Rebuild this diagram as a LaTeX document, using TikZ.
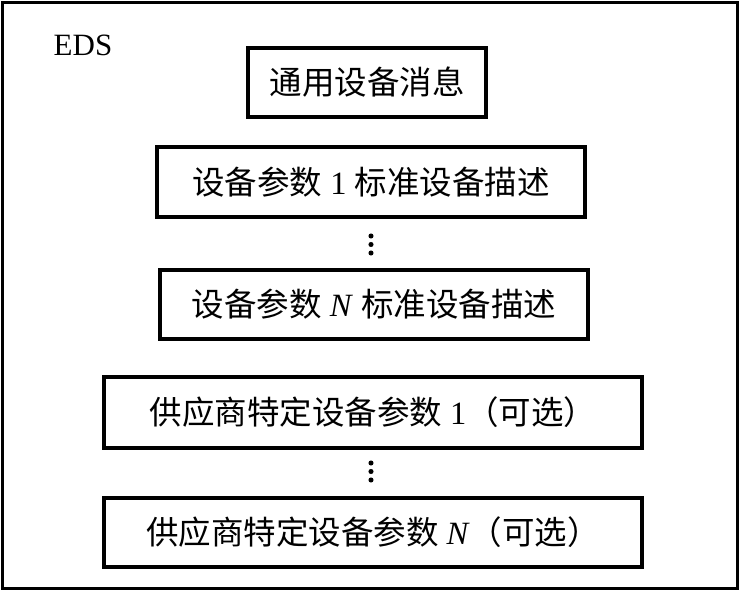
\documentclass[tikz,border=0pt]{standalone}
\usepackage{fontspec}
\setmainfont{Liberation Serif}
\newfontfamily\cjk{Noto Sans CJK SC}
\tikzset{
  part/.style={
    draw,
    line width=3.2pt,
    inner sep=0pt,
    font=\fontsize{32.5}{36}\selectfont
  },
  dot/.style={
    shape = circle,
    fill,
    inner sep = 1.8pt
  },
  every picture/.style = {
    x=1pt,
    y=-1pt
  }
}

\begin{document}
\begin{tikzpicture}
        \useasboundingbox (0,0) rectangle (740,591);
        \draw[line width=2.6pt] (2.5,2.5) rectangle (737.5,588.5);
        \node[font=\fontsize{31}{34}\selectfont] (eds) at (83,45) {EDS};
        \node[part,minimum width=238pt,minimum height=69pt] (info) at (367,82.5) {\cjk 通用设备消息};
        \node[part,minimum width=428pt,minimum height=70pt] (std1) at (371,182) {{\cjk 设备参数} 1 {\cjk 标准设备描述}};
        \node[part,minimum width=428pt,minimum height=69pt] (stdN) at (374,304.5) {{\cjk 设备参数} \textit{N} {\cjk 标准设备描述}};
        \node[part,minimum width=538pt,minimum height=71pt] (ven1) at (373,412.5) {{\cjk 供应商特定设备参数} 1{\cjk （可选）}};
        \node[part,minimum width=538pt,minimum height=69pt] (venN) at (373,532.5) {{\cjk 供应商特定设备参数} \textit{N}{\cjk （可选）}};
        \foreach \y in {0,1,2}{
                \node[dot] (a\y) at (371,236+8.5*\y) {};
                \node[dot] (b\y) at (371,463+8.5*\y) {};
            }
    \end{tikzpicture}
\end{document}
